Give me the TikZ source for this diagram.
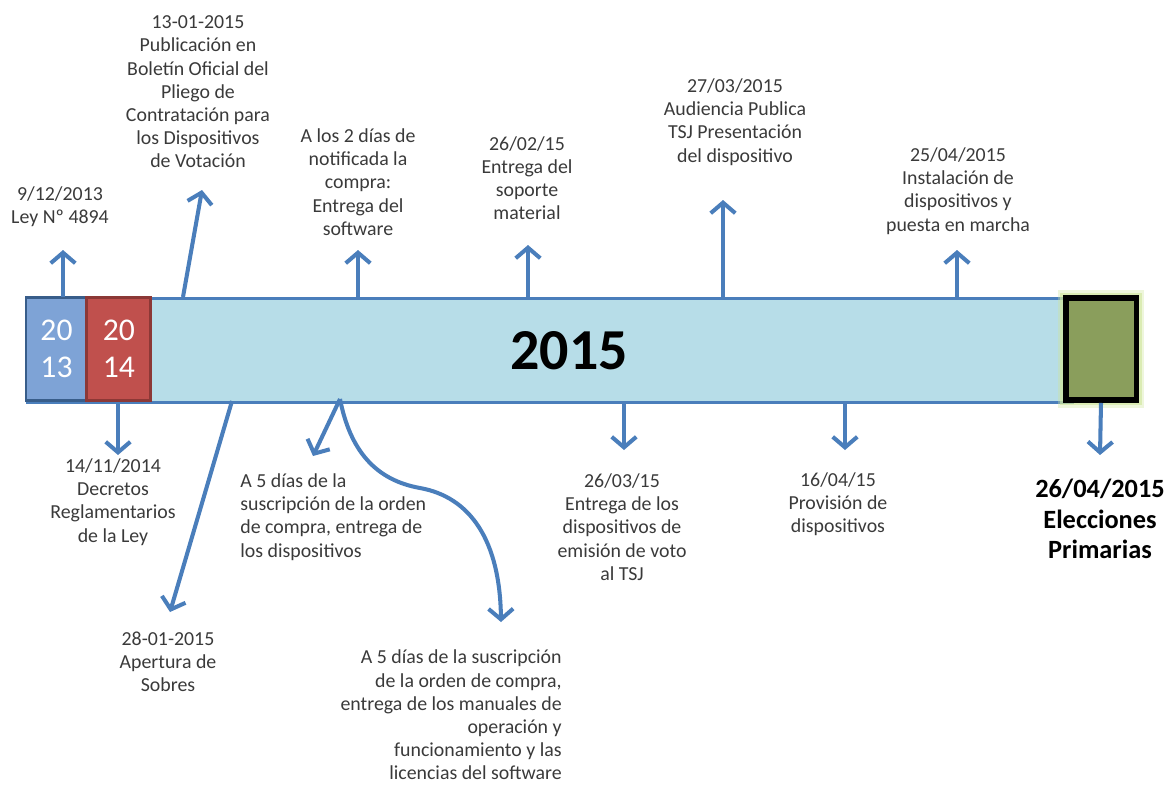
\documentclass[tikz,border=0pt]{standalone}
\usepackage{fontspec}
\setmainfont{Carlito}
\usepackage{tikz}
\usetikzlibrary{arrows.meta,positioning}
\usepackage{xcolor}
\definecolor{barfill}{HTML}{B7DDE8}
\definecolor{barline}{HTML}{4A7EBB}
\definecolor{box13}{HTML}{7EA3D6}
\definecolor{box13line}{HTML}{385D8A}
\definecolor{box14}{HTML}{C0504D}
\definecolor{box14line}{HTML}{8C3836}
\definecolor{box15}{HTML}{8A9E5C}
\definecolor{glow}{HTML}{CFE59A}
\definecolor{txt}{HTML}{3A3A3A}

\begin{document}
\begin{tikzpicture}[x=0.02cm,y=-0.02cm,
	lbl/.style={align=center,text=txt,font=\fontsize{11.3}{13.2}\selectfont,inner sep=0pt},
	arr/.style={draw=barline,line width=2.3pt,-{Straight Barb[length=6pt,width=14pt]}},
	yearbox/.style={draw,line width=1.7pt,minimum height=2.08cm,inner sep=0pt,outer sep=0pt,text=white,align=center,font=\fontsize{18}{21}\selectfont}]

	\useasboundingbox (0,0) rectangle (1170,785);

	% timeline bar
	\node[draw=barline,fill=barfill,line width=1.7pt,minimum width=20.9cm,minimum height=2.08cm,inner sep=0pt,anchor=north west] (bar) at (26,297) {};
	\node[yearbox,draw=box13line,fill=box13,minimum width=1.22cm,anchor=north west] (y13) at (26,297) {20\\13};
	\node[yearbox,draw=box14line,fill=box14,minimum width=1.28cm,right=0pt of y13] (y14) {20\\14};
	\node[font=\fontsize{33}{36}\selectfont\bfseries] (y15) at (569,351) {2015};
	\node[draw=black,fill=box15,line width=3.4pt,minimum width=1.42cm,minimum height=2.04cm,inner sep=0pt,
		preaction={draw=glow,line width=9pt,opacity=0.35},preaction={draw=glow,line width=6pt,opacity=0.6}] (vote) at (1101,349) {};

	% labels above
	\node[lbl] (ley) at (60,207) {9/12/2013\\Ley Nº 4894};
	\node[lbl] (pliego) at (198,92) {13-01-2015\\Publicación en\\Boletín Oficial del\\Pliego de\\Contratación para\\los Dispositivos\\de Votación};
	\node[lbl] (soft) at (358,182) {A los 2 días de\\notificada la\\compra:\\Entrega del\\software};
	\node[lbl] (soporte) at (527,178) {26/02/15\\Entrega del\\soporte\\material};
	\node[lbl] (audiencia) at (735,122) {27/03/2015\\Audiencia Publica\\TSJ Presentación\\del dispositivo};
	\node[lbl] (instal) at (958,191) {25/04/2015\\Instalación de\\dispositivos y\\puesta en marcha};

	% labels below
	\node[lbl] (decretos) at (113,502) {14/11/2014\\Decretos\\Reglamentarios\\de la Ley};
	\node[lbl] (sobres) at (168,662) {28-01-2015\\Apertura de\\Sobres};
	\node[lbl,align=left,anchor=west] (disp5) at (240,517) {A 5 días de la\\suscripción de la orden\\de compra, entrega de\\los dispositivos};
	\node[lbl,align=right,anchor=east] (manual5) at (562,715) {A 5 días de la suscripción\\de la orden de compra,\\entrega de los manuales de\\operación y\\funcionamiento y las\\licencias del software};
	\node[lbl] (tsj) at (622,527) {26/03/15\\Entrega de los\\dispositivos de\\emisión de voto\\al TSJ};
	\node[lbl] (provision) at (838,504) {16/04/15\\Provisión de\\dispositivos};
	\node[lbl,font=\fontsize{15}{17.5}\selectfont\bfseries,text=black] (elecc) at (1100,519) {26/04/2015\\Elecciones\\Primarias};

	% arrow ends
	\coordinate (t1) at (63,250);
	\coordinate (s2) at (183,297);
	\coordinate (t2) at (202,190);
	\coordinate (t3) at (358,250);
	\coordinate (t4) at (528,245);
	\coordinate (t5) at (723,200);
	\coordinate (t6) at (957,250);
	\coordinate (t7) at (118,455);
	\coordinate (s8) at (232,401);
	\coordinate (t8) at (170,612);
	\coordinate (s9) at (340,399);
	\coordinate (t9) at (313,456);
	\coordinate (t10) at (501,622);
	\coordinate (t11) at (624,450);
	\coordinate (t12) at (845,450);
	\coordinate (t13) at (1100,455);

	\draw[arr] (t1 |- bar.north) -- (t1);
	\draw[arr] (s2) -- (t2);
	\draw[arr] (t3 |- bar.north) -- (t3);
	\draw[arr] (t4 |- bar.north) -- (t4);
	\draw[arr] (t5 |- bar.north) -- (t5);
	\draw[arr] (t6 |- bar.north) -- (t6);
	\draw[arr] (t7 |- bar.south) -- (t7);
	\draw[arr] (s8) -- (t8);
	\draw[arr] (s9) -- (t9);
	\draw[arr] (s9) .. controls (350,450) and (375,480) .. (420,488) .. controls (470,497) and (500,540) .. (t10);
	\draw[arr] (t11 |- bar.south) -- (t11);
	\draw[arr] (t12 |- bar.south) -- (t12);
	\draw[arr] (vote.south) -- (t13);
\end{tikzpicture}
\end{document}
